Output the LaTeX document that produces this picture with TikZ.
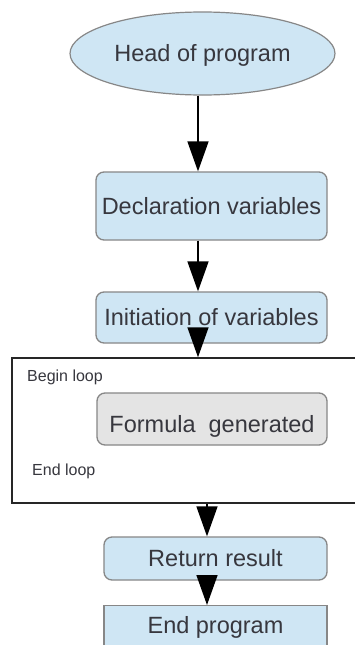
\documentclass[tikz,border=0pt]{standalone}
\usepackage{fontspec}
\setmainfont{Liberation Sans}
\usetikzlibrary{arrows.meta,shapes.geometric}
\definecolor{boxblue}{RGB}{207,230,244}
\definecolor{boxgray}{RGB}{228,228,228}
\definecolor{edgegray}{RGB}{135,135,135}
\definecolor{txt}{RGB}{55,55,62}
\tikzset{
 big/.style={font=\fontsize{23.5}{27}\selectfont, text=txt, text height=16.8pt, text depth=0pt, inner sep=0pt},
 small/.style={font=\fontsize{16}{19}\selectfont, text=txt, inner sep=0pt, anchor=west, text height=11.5pt, text depth=0pt},
 bluebox/.style={big, draw=edgegray, line width=1.3pt, fill=boxblue, rounded corners=8pt},
 flow/.style={line width=1.5pt, -{Triangle[width=21pt,length=30pt]}},
}
\begin{document}
\begin{tikzpicture}[x=1pt,y=-1pt]
\clip (0,0) rectangle (355,645);
\fill[white] (0,0) rectangle (355,645);
\node[big, ellipse, draw=edgegray, fill=boxblue, line width=1.2pt, minimum width=265, minimum height=83] (head) at (202.5,53.5) {Head of program};
\node[bluebox, minimum width=231, minimum height=68] (decl) at (211.5,206) {Declaration variables};
\node[bluebox, minimum width=231, minimum height=51] (init) at (211.5,317.5) {Initiation of variables};
\node[draw=black!85, line width=1.5pt, minimum width=358, minimum height=145, inner sep=0pt] (loop) at (191,430.5) {};
\node[small] (begin) at (27,376) {Begin loop};
\node[small] (endloop) at (32,470) {End loop};
\node[bluebox, fill=boxgray, minimum width=230, minimum height=52, text height=26.8pt] (formula) at (212,419) {Formula\ \ generated};
\node[bluebox, minimum width=223, minimum height=43] (ret) at (215.5,558.5) {Return result};
\node[bluebox, sharp corners, anchor=north, minimum width=223, minimum height=70, text height=28pt, text depth=42pt] (endp) at (215.5,605) {End program};
\coordinate (ax) at (198,0);
\coordinate (bx) at (207,0);
\draw[flow] (head.south -| ax) -- (decl.north -| ax);
\draw[flow] (decl.south -| ax) -- (init.north -| ax);
\draw[flow] (init.south -| ax) -- (loop.north -| ax);
\draw[flow] (loop.south -| bx) -- (ret.north -| bx);
\draw[flow] (ret.south -| bx) -- (endp.north -| bx);
\end{tikzpicture}
\end{document}
